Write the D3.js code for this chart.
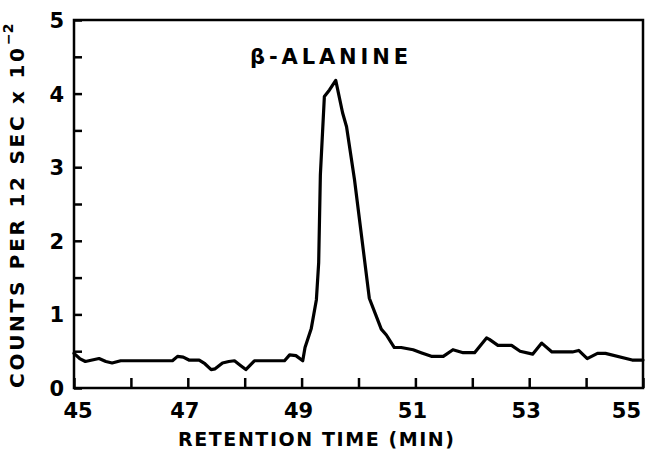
<!DOCTYPE html>
<html>
<head>
<meta charset="utf-8">
<script src="https://cdn.jsdelivr.net/npm/d3@7"></script>
<style>
  html, body { margin: 0; padding: 0; background: #fff; }
  svg { display: block; }
  text { font-family: "DejaVu Sans", sans-serif; fill: #000; }
</style>
</head>
<body>
<svg id="chart" width="646" height="451"></svg>
<script>
// Data
const retentionTime = [45.00,45.10,45.20,45.32,45.44,45.56,45.67,45.82,46.00,46.30,46.73,46.82,46.92,47.02,47.20,47.30,47.41,47.48,47.61,47.72,47.82,47.92,48.02,48.17,48.70,48.79,48.90,49.02,49.06,49.17,49.26,49.30,49.33,49.40,49.49,49.60,49.72,49.79,49.93,50.19,50.30,50.40,50.49,50.63,50.75,50.96,51.10,51.28,51.49,51.66,51.84,52.04,52.25,52.30,52.45,52.69,52.84,53.06,53.22,53.40,53.76,53.87,54.02,54.20,54.34,54.81,55.00];
const counts = [0.47,0.40,0.36,0.38,0.40,0.36,0.34,0.37,0.37,0.37,0.37,0.43,0.42,0.38,0.38,0.33,0.25,0.26,0.34,0.36,0.37,0.31,0.25,0.37,0.37,0.45,0.44,0.37,0.55,0.81,1.20,1.70,2.90,3.96,4.05,4.18,3.74,3.55,2.83,1.22,1.00,0.80,0.72,0.55,0.55,0.52,0.48,0.43,0.43,0.52,0.48,0.48,0.68,0.66,0.58,0.58,0.50,0.46,0.61,0.49,0.49,0.51,0.40,0.47,0.47,0.38,0.38];
const xTicks = [45,46,47,48,49,50,51,52,53,54,55];
const xTickLabels = ["45","47","49","51","53","55"];
const yTicks = [0,0.5,1,1.5,2,2.5,3,3.5,4,4.5,5];
const yTickLabels = ["0","1","2","3","4","5"];
const peakLabel = "β-ALANINE";
const xTitle = "RETENTION TIME (MIN)";
const yTitle = "COUNTS PER 12 SEC x 10";
const yTitleExp = "−2";

const svg = d3.select("#chart");
const m = {left: 74, right: 643, top: 20, bottom: 388};
const x = d3.scaleLinear().domain([45,55]).range([m.left, m.right]);
const y = d3.scaleLinear().domain([0,5]).range([m.bottom, m.top]);

// frame
svg.append("rect")
  .attr("x", m.left).attr("y", m.top)
  .attr("width", m.right - m.left).attr("height", m.bottom - m.top)
  .attr("fill", "none").attr("stroke", "#000").attr("stroke-width", 2.5);

// bottom axis (ticks inward)
const xAxis = d3.axisBottom(x).tickValues(xTicks).tickSize(-10).tickFormat("");
const gx = svg.append("g").attr("transform", `translate(0,${m.bottom})`).call(xAxis);
gx.select(".domain").remove();
gx.selectAll(".tick line").attr("stroke", "#000").attr("stroke-width", 2.5);

// left axis (ticks inward)
const yAxis = d3.axisLeft(y).tickValues(yTicks).tickSize(-8).tickFormat("");
const gy = svg.append("g").attr("transform", `translate(${m.left},0)`).call(yAxis);
gy.select(".domain").remove();
gy.selectAll(".tick line").attr("stroke", "#000").attr("stroke-width", 2.5);

// tick labels
svg.append("g").selectAll("text").data(xTickLabels).join("text")
  .attr("x", (d, i) => i === 0 ? x(+d) + 4 : (i === xTickLabels.length - 1 ? m.right - 2 : x(+d) - 3))
  .attr("y", 418)
  .attr("text-anchor", (d, i) => i === xTickLabels.length - 1 ? "end" : "middle")
  .attr("font-size", 21).attr("font-weight", "bold")
  .text(d => d);

svg.append("g").selectAll("text").data(yTickLabels).join("text")
  .attr("x", 64).attr("y", d => y(+d) + 8)
  .attr("text-anchor", "end")
  .attr("font-size", 21).attr("font-weight", "bold")
  .text(d => d);

// axis titles
svg.append("text")
  .attr("x", 316).attr("y", 446)
  .attr("text-anchor", "middle")
  .attr("font-size", 19).attr("font-weight", "bold")
  .attr("textLength", 276).attr("lengthAdjust", "spacing")
  .text(xTitle);

svg.append("text")
  .attr("transform", "translate(24,388) rotate(-90)")
  .attr("font-size", 20).attr("font-weight", "bold")
  .attr("textLength", 340).attr("lengthAdjust", "spacing")
  .text(yTitle);
svg.append("text")
  .attr("transform", "translate(13,45) rotate(-90)")
  .attr("font-size", 14).attr("font-weight", "bold")
  .text(yTitleExp);

// peak label
svg.append("text")
  .attr("x", 329).attr("y", 64)
  .attr("text-anchor", "middle")
  .attr("font-size", 21).attr("font-weight", "bold")
  .attr("textLength", 158).attr("lengthAdjust", "spacing")
  .text(peakLabel);

// trace
const data = retentionTime.map((t, i) => ({t, v: counts[i]}));
svg.append("path")
  .datum(data)
  .attr("fill", "none").attr("stroke", "#000").attr("stroke-width", 3.2)
  .attr("stroke-linejoin", "round").attr("stroke-linecap", "round")
  .attr("d", d3.line().x(d => x(d.t)).y(d => y(d.v)));
</script>
</body>
</html>
